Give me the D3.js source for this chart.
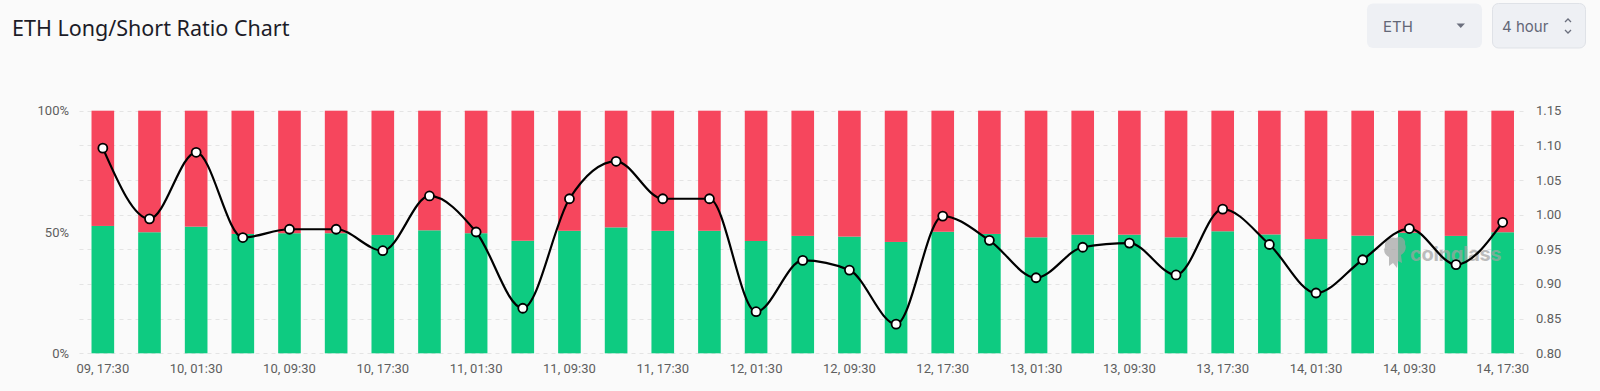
<!DOCTYPE html>
<html>
<head>
<meta charset="utf-8">
<script src="https://cdn.jsdelivr.net/npm/d3@7"></script>
<style>
  html, body { margin: 0; padding: 0; background: #fafafa; }
  svg { display: block; }
</style>
</head>
<body>
<svg id="chart" width="1600" height="391"></svg>
<script>
// ---- data ----
const categories = [
  "09, 17:30","09, 21:30","10, 01:30","10, 05:30","10, 09:30","10, 13:30","10, 17:30","10, 21:30",
  "11, 01:30","11, 05:30","11, 09:30","11, 13:30","11, 17:30","11, 21:30","12, 01:30","12, 05:30",
  "12, 09:30","12, 13:30","12, 17:30","12, 21:30","13, 01:30","13, 05:30","13, 09:30","13, 13:30",
  "13, 17:30","13, 21:30","14, 01:30","14, 05:30","14, 09:30","14, 13:30","14, 17:30"
];
const longPct = [
  52.5, 49.9, 52.2, 49.2, 49.5, 49.5, 48.8, 50.7,
  49.5, 46.4, 50.5, 51.9, 50.5, 50.5, 46.3, 48.4,
  48.1, 45.9, 50.1, 49.2, 47.8, 48.9, 48.9, 47.8,
  50.3, 49.0, 47.1, 48.5, 49.7, 48.4, 49.9
];
const ratio = [
  1.096, 0.994, 1.090, 0.967, 0.979, 0.979, 0.948, 1.027,
  0.975, 0.865, 1.023, 1.077, 1.023, 1.023, 0.860, 0.934,
  0.920, 0.842, 0.998, 0.963, 0.909, 0.953, 0.959, 0.913,
  1.008, 0.957, 0.887, 0.935, 0.980, 0.928, 0.989
];
const leftTicks = [0, 50, 100];
const rightTicks = [0.80, 0.85, 0.90, 0.95, 1.00, 1.05, 1.10, 1.15];

// ---- layout ----
const svg = d3.select("#chart");
const X0 = 79.5, X1 = 1526, YT = 110.7, YB = 353.3;
const pad = 0.515;
const x = d3.scaleBand().domain(categories).range([X0, X1]).paddingInner(pad).paddingOuter(pad / 2);
const yL = d3.scaleLinear().domain([0, 100]).range([YB, YT]);
const yR = d3.scaleLinear().domain([0.80, 1.15]).range([YB, YT]);

// title
svg.append("text").attr("x", 12).attr("y", 35.5)
  .attr("font-family", "'Noto Sans', 'Open Sans', sans-serif").attr("font-size", 21.5)
  .attr("fill", "#1c1c28").text("ETH Long/Short Ratio Chart");

// controls
const ctrl = svg.append("g").attr("font-family", "Inter, 'Noto Sans', sans-serif");
ctrl.append("rect").attr("x", 1367).attr("y", 3.5).attr("width", 115).attr("height", 44.5)
  .attr("rx", 6).attr("fill", "#eef0f4");
ctrl.append("text").attr("x", 1383).attr("y", 31.5).attr("font-size", 15).attr("fill", "#636777").text("ETH");
ctrl.append("path").attr("d", "M1456.5,23.5 L1465,23.5 L1460.75,28 Z").attr("fill", "#6b6f7d");
ctrl.append("rect").attr("x", 1492.5).attr("y", 3.5).attr("width", 93).attr("height", 44.5)
  .attr("rx", 6).attr("fill", "#eef0f4").attr("stroke", "#dfe2e7").attr("stroke-width", 1);
ctrl.append("text").attr("x", 1502).attr("y", 31.5).attr("font-size", 15).attr("fill", "#636777").text("4 hour");
ctrl.append("path").attr("d", "M1565,22 L1568,19 L1571,22 M1565,30 L1568,33 L1571,30")
  .attr("fill", "none").attr("stroke", "#6b6f7d").attr("stroke-width", 1.3);

// gridlines
svg.append("g").selectAll("line").data(rightTicks).join("line")
  .attr("x1", X0).attr("x2", X1)
  .attr("y1", d => Math.round(yR(d)) + 0.5).attr("y2", d => Math.round(yR(d)) + 0.5)
  .attr("stroke", "#e4e4e4").attr("stroke-dasharray", "4,4");

// bars
const bars = svg.append("g");
bars.selectAll("rect.long").data(categories).join("rect")
  .attr("x", d => x(d)).attr("width", x.bandwidth())
  .attr("y", (d, i) => yL(longPct[i])).attr("height", (d, i) => yL(0) - yL(longPct[i]))
  .attr("fill", "#0ecb81");
bars.selectAll("rect.short").data(categories).join("rect")
  .attr("x", d => x(d)).attr("width", x.bandwidth())
  .attr("y", yL(100)).attr("height", (d, i) => yL(longPct[i]) - yL(100))
  .attr("fill", "#f6465d");

// left axis labels
const axisFont = "Roboto, 'DejaVu Sans', sans-serif";
svg.append("g").selectAll("text").data(leftTicks).join("text")
  .attr("x", 69).attr("y", d => yL(d) + 4.5).attr("text-anchor", "end")
  .attr("font-family", axisFont).attr("font-size", 13).attr("fill", "#5e5e5e")
  .text(d => d + "%");

// right axis labels
svg.append("g").selectAll("text").data(rightTicks).join("text")
  .attr("x", 1536).attr("y", d => yR(d) + 4.5).attr("text-anchor", "start")
  .attr("font-family", axisFont).attr("font-size", 13).attr("fill", "#5e5e5e")
  .text(d => d.toFixed(2));

// x labels
svg.append("g").selectAll("text").data(categories.filter((d, i) => i % 2 === 0)).join("text")
  .attr("x", d => x(d) + x.bandwidth() / 2).attr("y", 372.5).attr("text-anchor", "middle")
  .attr("font-family", axisFont).attr("font-size", 13).attr("fill", "#5e5e5e")
  .text(d => d);

// watermark
const wm = svg.append("g").attr("opacity", 0.7).attr("fill", "#a3a3a3");
wm.append("path").attr("d",
  "M1385,247 C1384,240 1390,236 1396,238 C1401,235 1406,239 1405,244 C1407,248 1405,253 1401,255 " +
  "L1402,263 L1398,261 L1397,268 L1393,263 L1389,266 L1389,257 C1385,255 1383,251 1385,247 Z");
wm.append("text").attr("x", 1410).attr("y", 261).attr("font-family", "Inter, 'Noto Sans', sans-serif")
  .attr("font-size", 20).attr("font-weight", 700).attr("letter-spacing", -0.3).text("coinglass");

// ratio line
const cx = (d, i) => x(categories[i]) + x.bandwidth() / 2;
const line = d3.line().x((d, i) => cx(d, i)).y(d => yR(d)).curve(d3.curveMonotoneX);
svg.append("path").datum(ratio).attr("d", line)
  .attr("fill", "none").attr("stroke", "#000").attr("stroke-width", 2.2);
svg.append("g").selectAll("circle").data(ratio).join("circle")
  .attr("cx", (d, i) => cx(d, i)).attr("cy", d => yR(d)).attr("r", 4.5)
  .attr("fill", "#fff").attr("stroke", "#000").attr("stroke-width", 1.8);
</script>
</body>
</html>
